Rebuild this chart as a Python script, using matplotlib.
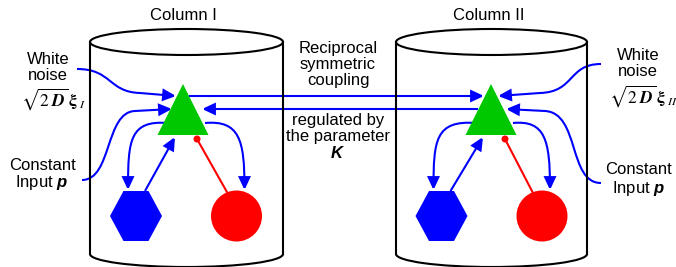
import numpy as np
import matplotlib
matplotlib.use("Agg")
import matplotlib.pyplot as plt
from matplotlib.path import Path
from matplotlib.patches import Ellipse, Arc, Polygon, Circle, FancyArrowPatch

plt.rcParams['font.family'] = ['Liberation Sans', 'DejaVu Sans']
plt.rcParams['mathtext.fontset'] = 'custom'
plt.rcParams['mathtext.rm'] = 'Liberation Sans'
plt.rcParams['mathtext.it'] = 'Liberation Sans:italic'
plt.rcParams['mathtext.bf'] = 'Liberation Sans:bold'
plt.rcParams['mathtext.bfit'] = 'Liberation Sans:italic:bold'

# diagram layout (pixel units, y grows downward)
column_names = ["Column I", "Column II"]
noise_subscripts = ["I", "II"]
column_x = [186.5, 491.5]        # cylinder centres
column_w = [193, 191]            # cylinder widths
cyl_top, cyl_bottom, cyl_rim = 42, 254, 13
tri_half, tri_top, tri_base = 25.5, 84, 135
tri_x = [183, 491]
hex_x = [136, 441.5]
circ_x = [236.5, 542]
node_y = 216
hex_rx, hex_ry, hex_flat = 26, 25, 12.5
circ_r = 25.5

BLUE = "#0000ff"
RED = "#ff0000"
GREEN = "#00c800"

fig = plt.figure(figsize=(6.76, 2.67), dpi=100)
ax = fig.add_axes([0, 0, 1, 1])
ax.set_xlim(0, 676)
ax.set_ylim(267, 0)
ax.axis("off")


def arrow(points, codes, color=BLUE, head=True):
    p = Path(points, codes)
    style = "-|>,head_length=0.75,head_width=0.35" if head else "-"
    a = FancyArrowPatch(path=p, arrowstyle=style, mutation_scale=10,
                        color=color, lw=1.5, shrinkA=0, shrinkB=0,
                        joinstyle="miter", capstyle="butt")
    ax.add_patch(a)


C4 = [Path.MOVETO, Path.CURVE4, Path.CURVE4, Path.CURVE4]
C4L = C4 + [Path.LINETO]
LN = [Path.MOVETO, Path.LINETO]

for i in range(2):
    cx, w = column_x[i], column_w[i]
    # cylinder
    ax.add_patch(Ellipse((cx, cyl_top), w, 2 * cyl_rim, fill=False, lw=1.5, ec="black"))
    ax.add_patch(Arc((cx, cyl_bottom), w, 2 * cyl_rim, theta1=0, theta2=180, lw=1.5, ec="black"))
    ax.plot([cx - w / 2, cx - w / 2], [cyl_top, cyl_bottom], color="black", lw=1.5)
    ax.plot([cx + w / 2, cx + w / 2], [cyl_top, cyl_bottom], color="black", lw=1.5)
    ax.text(cx - 3, 15, column_names[i], ha="center", va="center", fontsize=12)

    # nodes
    tx = tri_x[i]
    ax.add_patch(Polygon([(tx, tri_top), (tx - tri_half, tri_base), (tx + tri_half, tri_base)],
                         closed=True, fc=GREEN, ec="none", zorder=3))
    hx = hex_x[i]
    ax.add_patch(Polygon([(hx - hex_rx, node_y), (hx - hex_flat, node_y - hex_ry),
                          (hx + hex_flat, node_y - hex_ry), (hx + hex_rx, node_y),
                          (hx + hex_flat, node_y + hex_ry), (hx - hex_flat, node_y + hex_ry)],
                         closed=True, fc=BLUE, ec="none", zorder=3))
    ax.add_patch(Circle((circ_x[i], node_y), circ_r, fc=RED, ec="none", zorder=3))

    # local loops
    arrow([(tx - 15, 123), (hx - 6, 120), (hx - 8, 140), (hx - 8, 190)], C4)
    arrow([(hx + 9, 191), (tx - 8, 137)], LN)
    arrow([(tx + 22, 123), (circ_x[i] + 3, 120), (circ_x[i] + 8, 140), (circ_x[i] + 8, 190)], C4)
    ax.plot([circ_x[i] - 9, tx + 14], [193, 139], color=RED, lw=1.5, zorder=2)
    ax.add_patch(Circle((tx + 14, 139), 3.5, fc=RED, ec="none", zorder=4))

# external inputs, column I
arrow([(77, 69), (112, 69), (108, 92), (140, 93), (176, 96)], C4L)
arrow([(82, 180), (112, 180), (105, 112), (135, 111), (172, 109)], C4L)
# external inputs, column II
arrow([(601, 64), (568, 64), (575, 92), (540, 93), (498, 96)], C4L)
arrow([(601, 183), (568, 183), (580, 113), (545, 111), (506, 109)], C4L)

# reciprocal coupling
arrow([(189, 96), (484, 96)], LN)
arrow([(478, 109), (202, 109)], LN)


def noise_label(x, y, sub):
    s = r"$\sqrt{2\;\mathbfit{D}}\,\mathbf{\xi}_{\;\mathit{%s}}$" % sub
    ax.text(x, y, s, ha="center", va="center", fontsize=12.5, math_fontfamily="stix")


# labels
fs = 12
ax.text(48, 59, "White", ha="center", va="center", fontsize=fs)
ax.text(48, 76, "noise", ha="center", va="center", fontsize=fs)
noise_label(53, 99, noise_subscripts[0])
ax.text(42, 166, "Constant", ha="center", va="center", fontsize=fs)
ax.text(42, 183, r"Input $\mathbfit{p}$", ha="center", va="center", fontsize=fs)

ax.text(638, 55, "White", ha="center", va="center", fontsize=fs)
ax.text(638, 72, "noise", ha="center", va="center", fontsize=fs)
noise_label(643, 96, noise_subscripts[1])
ax.text(639, 170, "Constant", ha="center", va="center", fontsize=fs)
ax.text(639, 188, r"Input $\mathbfit{p}$", ha="center", va="center", fontsize=fs)

for y, s in zip([49, 65, 81], ["Reciprocal", "symmetric", "coupling"]):
    ax.text(338, y, s, ha="center", va="center", fontsize=fs)
for y, s in zip([121, 137, 153], ["regulated by", "the parameter", r"$\mathbfit{K}$"]):
    ax.text(338, y, s, ha="center", va="center", fontsize=fs)

fig.savefig("out.png", dpi=100)
